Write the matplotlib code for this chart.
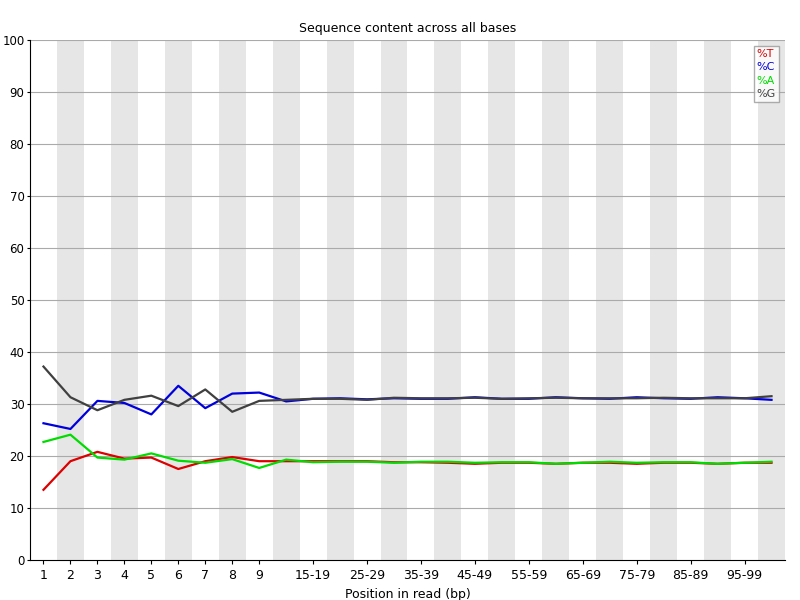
import matplotlib
matplotlib.use("Agg")
import matplotlib.pyplot as plt

labels = [str(i) for i in range(1, 10)] + [f"{a}-{a+4}" for a in range(10, 100, 5)] + ["100-101"]
pct_T = [13.5,19,20.8,19.5,19.7,17.5,19,19.8,19,19,19,19,19,18.8,18.8,18.7,18.5,18.7,18.7,18.5,18.7,18.7,18.5,18.7,18.7,18.5,18.7,18.7]
pct_C = [26.3,25.2,30.6,30.2,28,33.5,29.2,32,32.2,30.5,31,31.1,30.9,31.1,31,31,31.3,31,31,31.3,31.1,31,31.3,31.1,31,31.3,31.1,30.8]
pct_A = [22.7,24.1,19.7,19.3,20.5,19.1,18.7,19.4,17.7,19.3,18.8,18.9,18.9,18.7,18.9,18.9,18.7,18.8,18.8,18.5,18.7,18.9,18.7,18.8,18.8,18.5,18.7,18.9]
pct_G = [37.2,31.3,28.8,30.8,31.6,29.6,32.8,28.5,30.6,30.8,31,31,30.8,31.2,31.1,31.1,31.2,31,31.1,31.2,31.1,31.1,31.1,31.2,31.1,31.1,31.1,31.5]

fig = plt.figure(figsize=(8, 6), dpi=100)
ax = fig.add_axes([30/800, 40/600, 755/800, 520/600])
n = len(labels)
x = list(range(n))
for i in x:
    if i % 2 == 1:
        ax.axvspan(i - 0.5, i + 0.5, color="#e6e6e6", lw=0, zorder=0)
for yv in range(10, 101, 10):
    ax.axhline(yv, color="#aaaaaa", lw=0.8, zorder=1)
ax.plot(x, pct_T, color="#dc0000", lw=1.6, label="%T", zorder=3)
ax.plot(x, pct_C, color="#0000dc", lw=1.6, label="%C", zorder=3)
ax.plot(x, pct_A, color="#00dc00", lw=1.6, label="%A", zorder=3)
ax.plot(x, pct_G, color="#404040", lw=1.6, label="%G", zorder=3)
ax.set_xlim(-0.5, n - 0.5)
ax.set_ylim(0, 100)
ax.set_yticks(range(0, 101, 10))
ticks = [i for i in x if i < 9 or (i - 9) % 2 == 1]
ax.set_xticks(ticks)
ax.set_xticklabels([labels[i] for i in ticks])
ax.tick_params(axis="x", labelsize=9, length=3)
ax.tick_params(axis="y", labelsize=8.5, length=2, pad=2)
for s in ["top", "right"]:
    ax.spines[s].set_visible(False)
ax.set_xlabel("Position in read (bp)", fontsize=9)
ax.set_title("Sequence content across all bases", fontsize=9)
leg = ax.legend(loc="upper right", fontsize=8, handlelength=0, handletextpad=0,
                frameon=True, fancybox=False, borderpad=0.3, labelspacing=0.3)
for t, l in zip(leg.get_texts(), leg.get_lines()):
    t.set_color(l.get_color())
    l.set_visible(False)
leg.get_frame().set_edgecolor("#999999")
fig.savefig("out.png", dpi=100)
